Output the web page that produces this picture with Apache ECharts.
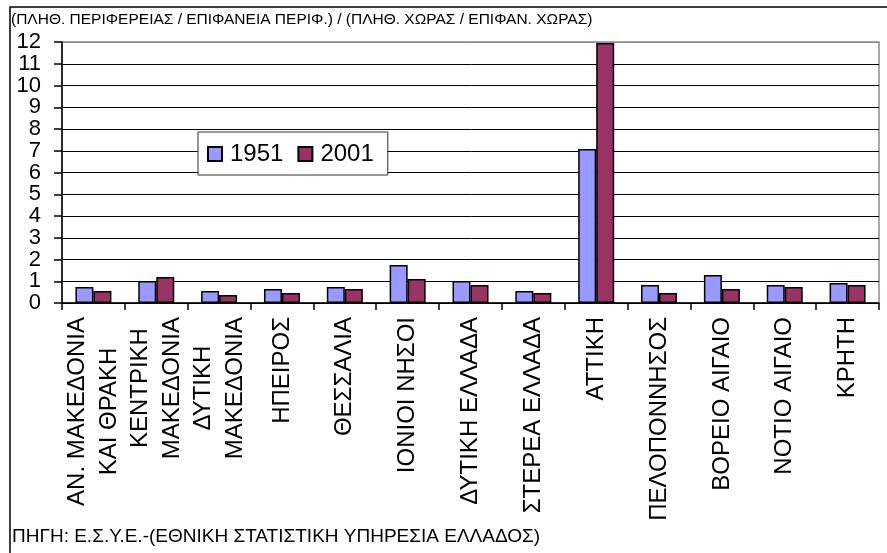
<!DOCTYPE html>
<html lang="el">
<head>
  <meta charset="UTF-8">
  <script src="https://cdn.jsdelivr.net/npm/echarts@6/dist/echarts.min.js"></script>
  <title>Πυκνότητα πληθυσμού</title>
  <style>
    html, body { margin: 0; padding: 0; background: #fff; }
    #chart { width: 887px; height: 553px; }
  </style>
</head>
<body>
  <div id="chart"></div>
  <script>
    // περιφέρειες
    var regions = [
      'ΑΝ. ΜΑΚΕΔΟΝΙΑ\nΚΑΙ ΘΡΑΚΗ', 'ΚΕΝΤΡΙΚΗ\nΜΑΚΕΔΟΝΙΑ', 'ΔΥΤΙΚΗ\nΜΑΚΕΔΟΝΙΑ', 'ΗΠΕΙΡΟΣ',
      'ΘΕΣΣΑΛΙΑ', 'ΙΟΝΙΟΙ ΝΗΣΟΙ', 'ΔΥΤΙΚΗ ΕΛΛΑΔΑ', 'ΣΤΕΡΕΑ ΕΛΛΑΔΑ', 'ΑΤΤΙΚΗ',
      'ΠΕΛΟΠΟΝΝΗΣΟΣ', 'ΒΟΡΕΙΟ ΑΙΓΑΙΟ', 'ΝΟΤΙΟ ΑΙΓΑΙΟ', 'ΚΡΗΤΗ'
    ];
    var years = ['1951', '2001'];
    var v1951 = [0.74, 1.01, 0.55, 0.64, 0.74, 1.75, 1.01, 0.55, 7.08, 0.83, 1.29, 0.83, 0.92];
    var v2001 = [0.55, 1.20, 0.37, 0.46, 0.64, 1.10, 0.83, 0.46, 11.95, 0.46, 0.64, 0.74, 0.83];
    var yTicks = [0, 12, 1]; // min, max, interval

    var titleText = '(ΠΛΗΘ. ΠΕΡΙΦΕΡΕΙΑΣ / ΕΠΙΦΑΝΕΙΑ ΠΕΡΙΦ.) / (ΠΛΗΘ. ΧΩΡΑΣ / ΕΠΙΦΑΝ. ΧΩΡΑΣ)';
    var sourceText = 'ΠΗΓΗ: Ε.Σ.Υ.Ε.-(ΕΘΝΙΚΗ ΣΤΑΤΙΣΤΙΚΗ ΥΠΗΡΕΣΙΑ ΕΛΛΑΔΟΣ)';

    var font = 'Liberation Sans, Arial, sans-serif';
    var myChart = echarts.init(document.getElementById('chart'), null, {renderer: 'canvas'});

    // γραμμές πλέγματος μαύρες, η πάνω γκρι (πλαίσιο)
    var gridColors = [];
    for (var i = yTicks[0]; i < yTicks[1]; i += yTicks[2]) gridColors.push('#000');
    gridColors.push('#8c8c8c');

    // οι ετικέτες του άξονα y μοιράζονται σε δύο άξονες (ζυγές / μονές)
    // ώστε να μην κρύβονται λόγω επικάλυψης
    function yLabels(odd) {
      return {
        margin: 21, color: '#000', fontFamily: font, fontSize: 22,
        showMinLabel: true, showMaxLabel: true,
        formatter: function (v) { return (Math.round(v) % 2 === 1) === odd ? String(v) : ''; }
      };
    }

    var opt = {
      animation: false,
      backgroundColor: '#fff',
      textStyle: { fontFamily: font },
      title: [
        { text: titleText, left: 11, top: 12, padding: 0,
          textStyle: { fontFamily: font, fontSize: 15.5, fontWeight: 'normal', color: '#000' } },
        { text: sourceText, left: 12, top: 527, padding: 0,
          textStyle: { fontFamily: font, fontSize: 19, fontWeight: 'normal', color: '#000' } }
      ],
      graphic: [
        { type: 'polyline', shape: { points: [[10, 553], [10, 7], [887, 7]] },
          style: { stroke: '#000', lineWidth: 1.5, fill: null } }
      ],
      legend: {
        data: years,
        left: 198, top: 132,
        padding: [10, 14, 9, 9],
        itemGap: 14,
        itemWidth: 14, itemHeight: 14,
        icon: 'rect',
        backgroundColor: '#fff',
        borderColor: '#333', borderWidth: 1,
        textStyle: { fontFamily: font, fontSize: 24, color: '#000', padding: [0, 0, 0, 3] }
      },
      grid: {
        left: 62, right: 8, top: 42, bottom: 250,
        show: true, borderColor: '#8c8c8c', borderWidth: 1.5, backgroundColor: 'transparent'
      },
      xAxis: {
        type: 'category',
        data: regions,
        axisLine: { lineStyle: { color: '#000', width: 1.5 } },
        axisTick: { show: true, length: 7, lineStyle: { color: '#000', width: 1.5 } },
        axisLabel: {
          interval: 0, rotate: 90, margin: 14, color: '#000',
          fontFamily: font, fontSize: 24, lineHeight: 32,
          formatter: function (val) {
            return val.split('\n').map(function (s) { return '{c|' + s + '}'; }).join('\n');
          },
          rich: { c: { align: 'center', fontFamily: font, fontSize: 24, lineHeight: 32, color: '#000' } }
        }
      },
      yAxis: [
        {
          type: 'value', position: 'left',
          min: yTicks[0], max: yTicks[1], interval: yTicks[2],
          axisLine: { show: true, lineStyle: { color: '#000', width: 1.5 } },
          axisTick: { show: true, length: 8, lineStyle: { color: '#000', width: 1.5 } },
          axisLabel: yLabels(false),
          splitLine: { show: true, lineStyle: { color: gridColors, width: 1 } }
        },
        {
          type: 'value', position: 'left', offset: 0,
          min: yTicks[0], max: yTicks[1], interval: yTicks[2],
          axisLine: { show: false }, axisTick: { show: false },
          axisLabel: yLabels(true),
          splitLine: { show: false }
        }
      ],
      series: [
        { name: years[0], type: 'bar', data: v1951, barWidth: 18, barGap: '0%',
          itemStyle: { color: '#9999FF', borderColor: '#000', borderWidth: 1.5 } },
        { name: years[1], type: 'bar', data: v2001, barWidth: 18, barGap: '0%',
          itemStyle: { color: '#993366', borderColor: '#000', borderWidth: 1.5 } }
      ]
    };

    myChart.setOption(opt);
  </script>
</body>
</html>
